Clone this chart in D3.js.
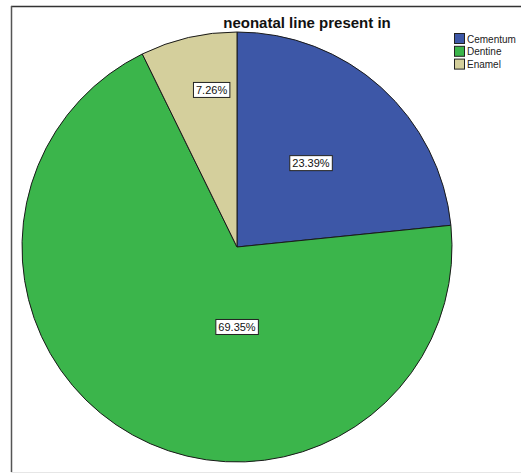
<!DOCTYPE html>
<html>
<head>
<meta charset="utf-8">
<script src="https://cdn.jsdelivr.net/npm/d3@7"></script>
<style>
  html, body { margin: 0; padding: 0; background: #fff; }
  svg { display: block; font-family: "Liberation Sans", Arial, sans-serif; }
</style>
</head>
<body>
<svg id="chart" width="521" height="474"></svg>
<script>
// Where the neonatal line is present (percent of teeth)
const categories = ["Cementum", "Dentine", "Enamel"];
const percents = [23.39, 69.35, 7.26];
const sliceColors = ["#3d57a7", "#3bb54b", "#d4cf9c"];
const chartTitle = "neonatal line present in";

// Label placement inside each slice: angle from 12 o'clock (deg) and fraction of the radius
const labelAngles = [41.4, 180, -9.2];
const labelRadii = [0.52, 0.372, 0.74];

const W = 521, H = 474;
const cx = 237, cy = 247, R = 215;

const svg = d3.select("#chart");

// Outer frame
svg.append("line").attr("x1", 11).attr("y1", 6.5).attr("x2", W).attr("y2", 6.5)
  .attr("stroke", "#333").attr("stroke-width", 1.5);
svg.append("line").attr("x1", 11.5).attr("y1", 6).attr("x2", 11.5).attr("y2", 472)
  .attr("stroke", "#555").attr("stroke-width", 1.5);
svg.append("line").attr("x1", 11).attr("y1", 472.5).attr("x2", W).attr("y2", 472.5)
  .attr("stroke", "#e6e6e6").attr("stroke-width", 1);

// Title
svg.append("text")
  .attr("x", 307).attr("y", 28)
  .attr("text-anchor", "middle")
  .attr("font-size", 15).attr("font-weight", "bold").attr("fill", "#111")
  .text(chartTitle);

const data = categories.map((c, i) => ({ name: c, value: percents[i], color: sliceColors[i], i }));

const pie = d3.pie().value(d => d.value).sort(null);
const arc = d3.arc().innerRadius(0).outerRadius(R);
const arcs = pie(data);

const g = svg.append("g").attr("transform", `translate(${cx},${cy})`);

g.selectAll("path.slice")
  .data(arcs)
  .join("path")
  .attr("class", "slice")
  .attr("d", arc)
  .attr("fill", d => d.data.color)
  .attr("stroke", "#1a1a1a")
  .attr("stroke-width", 1);

// Percentage labels in white boxes
const fmt = d => d3.format(".2f")(d) + "%";
const labels = g.selectAll("g.lbl")
  .data(arcs)
  .join("g")
  .attr("class", "lbl")
  .attr("transform", d => {
    const a = labelAngles[d.data.i] * Math.PI / 180;
    const r = labelRadii[d.data.i] * R;
    return `translate(${r * Math.sin(a)},${-r * Math.cos(a)})`;
  });

labels.each(function(d) {
  const sel = d3.select(this);
  const t = sel.append("text")
    .attr("text-anchor", "middle")
    .attr("dy", "0.36em")
    .attr("font-size", 11)
    .attr("fill", "#111")
    .text(fmt(d.data.value));
  const bb = t.node().getBBox();
  sel.insert("rect", "text")
    .attr("x", bb.x - 2.5).attr("y", -7.5)
    .attr("width", bb.width + 5).attr("height", 15)
    .attr("fill", "#fff").attr("stroke", "#222").attr("stroke-width", 1);
});

// Legend
const legend = svg.append("g").attr("transform", "translate(454,33)");
const items = legend.selectAll("g")
  .data(data)
  .join("g")
  .attr("transform", (d, i) => `translate(0,${i * 12.8})`);
items.append("rect")
  .attr("x", 0.5).attr("y", 0.5).attr("width", 10).attr("height", 10)
  .attr("fill", d => d.color).attr("stroke", "#222").attr("stroke-width", 1);
items.append("text")
  .attr("x", 13).attr("y", 9.5)
  .attr("font-size", 10).attr("fill", "#222")
  .text(d => d.name);
</script>
</body>
</html>
